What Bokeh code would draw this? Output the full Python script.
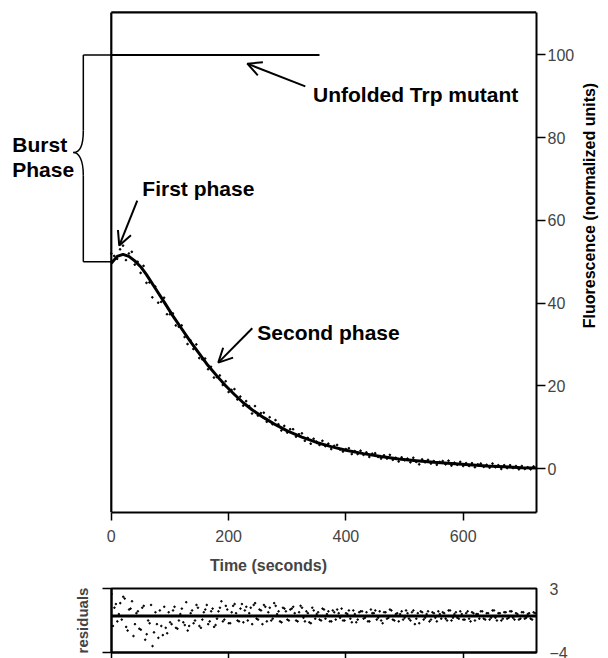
import math
from bokeh.plotting import figure
from bokeh.models import (Range1d, LinearAxis, FixedTicker, Arrow, OpenHead, Span,
                          ColumnDataSource)
from bokeh.layouts import column, row
from bokeh.core.properties import value
from bokeh.embed import file_html
from bokeh.resources import INLINE

FONT = "Liberation Sans"

# ---------------- data ----------------
fit_t = [0, 10, 20, 30, 40, 50, 60, 75, 90, 105, 120, 135, 150, 165, 180, 195, 210, 225, 240,
         260, 280, 300, 325, 350, 375, 400, 430, 460, 490, 520, 550, 580, 610, 640, 670, 700, 725]
fit_val = [49.6, 51.3, 51.8, 51.3, 50.2, 48.8, 46.9, 43.6, 40.3, 36.9, 33.8, 30.7, 27.8, 24.9,
           22.4, 20.0, 17.9, 15.9, 14.2, 12.3, 10.6, 9.1, 7.6, 6.3, 5.3, 4.4, 3.6, 2.9, 2.3,
           1.9, 1.5, 1.2, 0.9, 0.6, 0.4, 0.2, 0.1]

obs_t = list(range(0, 725, 5))
obs_val = [52.0, 51.4, 50.7, 53.0, 53.9, 50.4, 52.0, 52.4, 49.3, 50.0,
           47.3, 49.0, 44.9, 45.0, 41.4, 44.0, 40.1, 40.3, 41.3, 37.3,
           37.3, 37.5, 34.6, 34.3, 34.6, 31.8, 30.1, 31.0, 28.9, 30.0,
           26.7, 26.4, 26.6, 24.0, 24.6, 22.0, 22.1, 22.5, 20.2, 21.1,
           18.5, 19.0, 19.2, 16.7, 17.4, 15.2, 16.3, 15.1, 13.3, 15.1,
           12.8, 13.4, 13.5, 11.3, 12.4, 10.7, 11.7, 10.7, 9.2, 10.3,
           8.7, 9.5, 9.5, 7.7, 8.3, 8.5, 6.7, 7.4, 6.0, 7.2,
           6.5, 5.7, 6.7, 5.4, 6.0, 4.7, 5.5, 5.7, 4.6, 4.1,
           4.7, 4.9, 3.5, 4.2, 3.5, 4.3, 3.3, 3.9, 2.8, 3.6,
           3.7, 2.8, 2.4, 3.2, 2.4, 3.3, 2.1, 2.6, 1.7, 2.7,
           2.0, 2.4, 1.5, 2.6, 1.6, 1.0, 2.2, 1.5, 2.1, 1.2,
           1.8, 0.9, 1.6, 1.8, 1.0, 1.9, 0.7, 1.4, 0.9, 1.6,
           0.6, 1.3, 0.6, 1.3, 0.3, 1.0, 1.2, 0.4, 0.9, 0.2,
           1.2, 0.3, 0.8, -0.1, 0.8, 0.1, 0.8, 0.1, 0.6, -0.2,
           0.6, -0.1, 0.3, -0.2, 0.5]

unfolded_t = [0, 355]
unfolded_val = [100, 100]

resid_val = [2.4, 0.9, -0.6, 1.4, 2.1, -1.2, 0.7, 1.6, -0.9, 0.5,
             -1.5, 1.1, -2.0, -0.8, -3.3, 0.4, -2.4, -1.1, 1.0, -1.9,
             -0.7,
             0.6, -1.3, -0.5, 0.8, -1.0, -1.6, 0.3, -0.8, 1.2, -1.1,
             -0.4, 0.7, -0.9, 0.5, -1.2, -0.3, 0.9, -0.6, 1.1, -0.8,
             0.4, 1.3, -0.5, 0.8, -0.7, 1.0, 0.3, -0.9, 1.4, -0.4,
             0.6, 1.2, -0.6, 0.9, -0.3, 1.1, 0.5, -0.7, 0.8, -0.4,
             0.7, 1.0, -0.5, 0.4, 0.9, -0.6, 0.3, -0.8, 0.6, 0.2,
             -0.4, 0.8, -0.3, 0.5, -0.6, 0.4, 0.7, -0.2, -0.5, 0.3,
             0.6, -0.7, 0.2, -0.4, 0.5, -0.3, 0.4, -0.6, 0.3, 0.6,
             -0.2, -0.5, 0.4, -0.3, 0.7, -0.4, 0.2, -0.6, 0.5, -0.2,
             0.3, -0.5, 0.6, -0.3, -0.8, 0.4, -0.2, 0.5, -0.4, 0.3,
             -0.6, 0.2, 0.4, -0.3, 0.6, -0.5, 0.2, -0.2, 0.5, -0.4,
             0.3, -0.3, 0.4, -0.5, 0.2, 0.5, -0.3, 0.3, -0.4, 0.6,
             -0.2, 0.3, -0.5, 0.4, -0.3, 0.5, -0.2, 0.3, -0.4, 0.4,
             -0.3, 0.2, -0.3, 0.4]
resid_t = obs_t[:len(resid_val)]

# second interleaved set of residual readings (half-way between the samples above)
resid_val_b = [-1.1, 1.3, 0.2, -0.4, 1.9, -1.6, 0.8, -2.2, 0.3, -1.4,
               0.9, -2.6, -0.5, 1.2, -1.8, -0.9, 0.6, -2.1, -1.3, 0.4,
               -0.9, 1.0, -1.4, 0.2, -0.7, 1.5, -1.1, 0.6, -0.5, 0.9,
               -1.3, 0.4, 1.2, -0.6, 0.8, -1.0, 0.5, 1.6, -0.4, 0.7,
               -0.8, 1.1, 0.3, -0.6, 1.3, 0.6, -0.5, 0.9, 1.2, -0.3,
               0.7, -0.9, 1.0, 0.4, -0.5, 1.4, 0.2, -0.6, 0.9, 0.5,
               -0.5, 0.8, 0.3, -0.6, 1.1, -0.2, 0.5, -0.7, 0.9, -0.3,
               0.4, -0.5, 0.7, 0.2, -0.6, 0.6, -0.4, 0.3, 0.8, -0.5,
               0.2, -0.3, 0.6, -0.7, 0.4, 0.5, -0.2, -0.6, 0.7, 0.3,
               -0.4, 0.5, -0.8, 0.4, -0.2, 0.6, -0.5, 0.3, 0.2, -0.4,
               0.6, -0.3, 0.4, -0.9, 0.3, 0.5, -0.4, 0.2, -0.6, 0.4,
               -0.2, 0.5, -0.3, 0.3, -0.5, 0.6, -0.2, 0.4, -0.3, 0.2,
               -0.4, 0.5, -0.6, 0.3, 0.2, -0.3, 0.5, -0.4, 0.3, -0.2,
               0.6, -0.5, 0.3, -0.3, 0.4, -0.2, 0.5, -0.4, 0.2, -0.3,
               0.4, -0.2, 0.3, -0.4, 0.3]
resid_t_b = [t + 2.5 for t in obs_t[:len(resid_val_b)]]

x_ticks = [0, 200, 400, 600]
y_ticks = [0, 20, 40, 60, 80, 100]
resid_ticks = [-4, 3]
y_title = "Fluorescence (normalized units)"

# ---------------- ranges ----------------
X_END = 725.0
X_START = -188.9
Y_END = 110.76
Y_START = -10.64
Y_TOPLINE = 110.3


def no_align(fig):
    try:
        fig.frame_align = False
    except Exception:
        pass


p = figure(width=580, height=580, x_range=Range1d(X_START, X_END), y_range=Range1d(Y_START, Y_END),
           output_backend="svg", toolbar_location=None, y_axis_location="right",
           min_border_left=0, min_border_right=44, min_border_top=10, min_border_bottom=68)
p.outline_line_color = None
p.grid.visible = False
no_align(p)

xa = p.xaxis[0]
xa.ticker = FixedTicker(ticks=x_ticks)
xa.bounds = (0, X_END)
xa.major_tick_out = 8
xa.major_tick_in = 0
xa.minor_tick_line_color = None
xa.axis_line_width = 2
xa.major_tick_line_width = 1.5
xa.major_label_text_font = FONT
xa.major_label_text_font_size = "16px"
xa.major_label_standoff = 9
xa.axis_label = "Time (seconds)"
xa.axis_label_text_font = FONT
xa.axis_label_text_font_style = "bold"
xa.axis_label_text_font_size = "16px"
xa.axis_label_standoff = 12

ya = p.yaxis[0]
ya.ticker = FixedTicker(ticks=y_ticks)
ya.bounds = (Y_START, Y_TOPLINE)
ya.major_tick_out = 9
ya.major_tick_in = 0
ya.minor_tick_line_color = None
ya.axis_line_width = 2
ya.major_tick_line_width = 1.5
ya.major_label_text_font = FONT
ya.major_label_text_font_size = "16px"
ya.major_label_standoff = 2

# frame lines (top & left)
p.segment(x0=[0, 0], y0=[Y_TOPLINE, Y_START], x1=[X_END, 0], y1=[Y_TOPLINE, Y_TOPLINE],
          line_width=2.2, line_color="black")

# data
p.line(unfolded_t, unfolded_val, line_width=2, line_color="black")
p.scatter(obs_t, obs_val, size=1.7, marker="circle", color="black")
p.line(fit_t, fit_val, line_width=3, line_color="black")

# burst phase bracket
BR_X, TIP_X = -47.7, -64.8
p.line([BR_X, 0], [100, 100], line_width=1.5, line_color="black")
p.line([BR_X, 0], [50.0, 50.0], line_width=1.5, line_color="black")
p.line([BR_X, BR_X], [100, 81.7], line_width=1.5, line_color="black")
p.line([BR_X, BR_X], [70.9, 50.0], line_width=1.5, line_color="black")
p.bezier(x0=[BR_X, TIP_X], y0=[81.7, 76.4], x1=[TIP_X, BR_X], y1=[76.4, 70.9],
         cx0=[BR_X, -55.0], cy0=[78.0, 76.4], cx1=[-55.0, BR_X], cy1=[76.4, 74.6],
         line_width=1.5, line_color="black")

labels = ColumnDataSource(dict(
    x=[-168.8, -168.8, 52.9, 344.0, 249.0],
    y=[78.4, 72.3, 67.7, 90.4, 32.9],
    text=["Burst", "Phase", "First phase", "Unfolded Trp mutant", "Second phase"]))
p.text(x="x", y="y", text="text", source=labels, text_font=value(FONT),
       text_font_style="bold", text_font_size=value("21px"), text_baseline="alphabetic",
       text_align="left", text_color="black")

for (xs, ys, xe, ye) in [(44.3, 64.8, 13.6, 53.9), (330.8, 92.4, 231.9, 97.9), (240.4, 33.9, 182.4, 25.6)]:
    p.add_layout(Arrow(end=OpenHead(size=14, line_width=2, line_color="black"),
                       x_start=xs, y_start=ys, x_end=xe, y_end=ye, line_width=2, line_color="black"))

# narrow strip holding the y-axis title (same vertical scale as the main plot)
lab = figure(width=28, height=580, x_range=Range1d(0, 28), y_range=Range1d(Y_START, Y_END),
             output_backend="svg", toolbar_location=None,
             min_border_left=0, min_border_right=0, min_border_top=10, min_border_bottom=68)
lab.axis.visible = False
lab.grid.visible = False
lab.outline_line_color = None
no_align(lab)
lab.text(x=[9.0], y=[63.6], text=[y_title], angle=math.pi / 2, text_font=value(FONT),
         text_font_style="bold", text_font_size=value("16px"), text_align="center",
         text_baseline="middle", text_color="black")

# ---------------- residuals ----------------
r = figure(width=608, height=78, x_range=Range1d(0, X_END), y_range=Range1d(-4, 3),
           output_backend="svg", toolbar_location=None, y_axis_location="left",
           min_border_left=111, min_border_right=72, min_border_top=8, min_border_bottom=5)
r.outline_line_color = "black"
r.outline_line_width = 2
r.grid.visible = False
no_align(r)

rx = r.xaxis[0]
rx.ticker = FixedTicker(ticks=x_ticks)
rx.major_tick_out = 6
rx.major_tick_in = 0
rx.minor_tick_line_color = None
rx.axis_line_width = 2
rx.major_tick_line_width = 1.5
rx.major_label_text_font_size = "0px"
rx.major_label_standoff = 0

ry = r.yaxis[0]
ry.ticker = FixedTicker(ticks=resid_ticks)
ry.major_tick_out = 9
ry.major_tick_in = 0
ry.minor_tick_line_color = None
ry.axis_line_width = 2
ry.major_tick_line_width = 1.5
ry.major_label_text_font_size = "0px"
ry.major_label_standoff = 0
ry.axis_label = "residuals"
ry.axis_label_text_font = FONT
ry.axis_label_text_font_style = "bold"
ry.axis_label_text_font_size = "15px"
ry.axis_label_standoff = 12

rr = LinearAxis(ticker=FixedTicker(ticks=resid_ticks), major_tick_out=0, major_tick_in=0,
                minor_tick_line_color=None, axis_line_color=None,
                major_label_text_font=FONT, major_label_text_font_size="16px",
                major_label_standoff=13)
r.add_layout(rr, "right")

r.add_layout(Span(location=0, dimension="width", line_width=3, line_color="black"))
r.scatter(resid_t, resid_val, size=1.6, marker="circle", color="black")
r.scatter(resid_t_b, resid_val_b, size=1.6, marker="circle", color="black")

layout = column(row(p, lab), r)
open("out.html", "w").write(file_html(layout, INLINE))
